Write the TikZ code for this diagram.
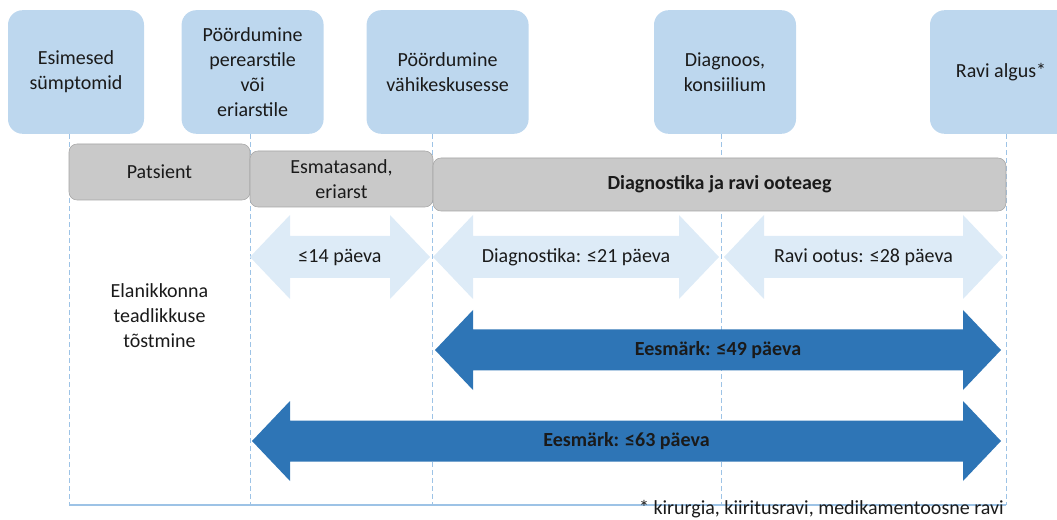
\documentclass[tikz,border=0pt]{standalone}
\usepackage{fontspec}
\setmainfont{Carlito}

\definecolor{stageblue}{HTML}{BDD7EE}
\definecolor{phasegray}{HTML}{C9C9C9}
\definecolor{phaseline}{HTML}{A5A5A5}
\definecolor{gridblue}{HTML}{9DC3E6}
\definecolor{paleblue}{HTML}{DDEBF7}
\definecolor{goalblue}{HTML}{2E75B6}
\definecolor{txt}{HTML}{1A1A1A}

\begin{document}
\begin{tikzpicture}[x=0.75pt,y=-0.75pt]
    \tikzstyle{stage}=[fill=stageblue,rounded corners=11pt,align=center,inner sep=0pt,minimum height=92.7pt,text=txt,font=\fontsize{15}{18.75}\selectfont]
    \tikzstyle{phase}=[fill=phasegray,draw=phaseline,rounded corners=6pt,align=center,inner sep=0pt,minimum height=42pt,text=txt,font=\fontsize{15}{18.75}\selectfont]
    \tikzstyle{gridline}=[gridblue,dashed,dash pattern=on 4pt off 2pt,line width=0.6pt]
    \tikzstyle{label}=[align=center,text=txt,font=\fontsize{15}{18.75}\selectfont]
    \useasboundingbox (0,0) rectangle (1057,520);
    \clip (0,0) rectangle (1057,520);

    % milestones
    \node at (76,72) (symptoms) [stage, minimum width=102pt] {Esimesed\\sümptomid};
    \node at (252.6,72) (gp) [stage, minimum width=106.5pt] {Pöördumine\\perearstile\\või\\eriarstile};
    \node at (447.6,72) (centre) [stage, minimum width=121.5pt] {Pöördumine\\vähikeskusesse};
    \node at (725,72) (diagnosis) [stage, minimum width=106.5pt] {Diagnoos,\\konsiilium};
    \node at (1001,72) (treatment) [stage, minimum width=106.5pt] {Ravi algus*};

    \coordinate (base1) at (69,505);
    \coordinate (base2) at (250,505);
    \coordinate (base3) at (432.5,505);
    \coordinate (base4) at (721,505);
    \coordinate (base5) at (1006,505);

    \draw[gridline] (symptoms.south -| base1) -- (base1);
    \draw[gridline] (gp.south -| base2) -- (base2);
    \draw[gridline] (centre.south -| base3) -- (base3);
    \draw[gridline] (diagnosis.south -| base4) -- (base4);
    \draw[gridline] (treatment.south -| base5) -- (base5);
    \draw[gridblue, line width=0.8pt] (base1) -- (base5);

    % phases
    \node at (159.5,172) (patient) [phase, minimum width=135.75pt] {Patsient};
    \node at (341.5,179) (primary) [phase, minimum width=137.25pt] {Esmatasand,\\eriarst};
    \node at (719.5,184.5) (waiting) [phase, minimum width=429.75pt, minimum height=39.75pt] {\textbf{Diagnostika ja ravi ooteaeg}};

    \node at (159.5,316) (awareness) [label] {Elanikkonna\\teadlikkuse\\tõstmine};

    % time limits
    \fill[paleblue] (250,257) -- (290,215) -- (290,236) -- (390,236) -- (390,215) -- (430,257) -- (390,299) -- (390,278) -- (290,278) -- (290,299) -- cycle;
    \fill[paleblue] (433,257) -- (473,215) -- (473,236) -- (679,236) -- (679,215) -- (719,257) -- (679,299) -- (679,278) -- (473,278) -- (473,299) -- cycle;
    \fill[paleblue] (724,257) -- (764,215) -- (764,236) -- (963,236) -- (963,215) -- (1003,257) -- (963,299) -- (963,278) -- (764,278) -- (764,299) -- cycle;
    \node at (340,257) (lim14) [label] {≤14 päeva};
    \node at (576,257) (lim21) [label] {Diagnostika: ≤21 päeva};
    \node at (863.5,257) (lim28) [label] {Ravi ootus: ≤28 päeva};

    % goals
    \fill[goalblue] (435,350) -- (473,310) -- (473,329.5) -- (963,329.5) -- (963,310) -- (1001,350) -- (963,390) -- (963,370.5) -- (473,370.5) -- (473,390) -- cycle;
    \fill[goalblue] (252,441) -- (290,401) -- (290,420.5) -- (963,420.5) -- (963,401) -- (1001,441) -- (963,481) -- (963,461.5) -- (290,461.5) -- (290,481) -- cycle;
    \node at (718,350) (goal49) [label] {\textbf{Eesmärk: ≤49 päeva}};
    \node at (626.5,441) (goal63) [label] {\textbf{Eesmärk: ≤63 päeva}};

    \node at (1004,514) (note) [label, anchor=base east, inner sep=0pt] {* kirurgia, kiiritusravi, medikamentoosne ravi};
\end{tikzpicture}
\end{document}
